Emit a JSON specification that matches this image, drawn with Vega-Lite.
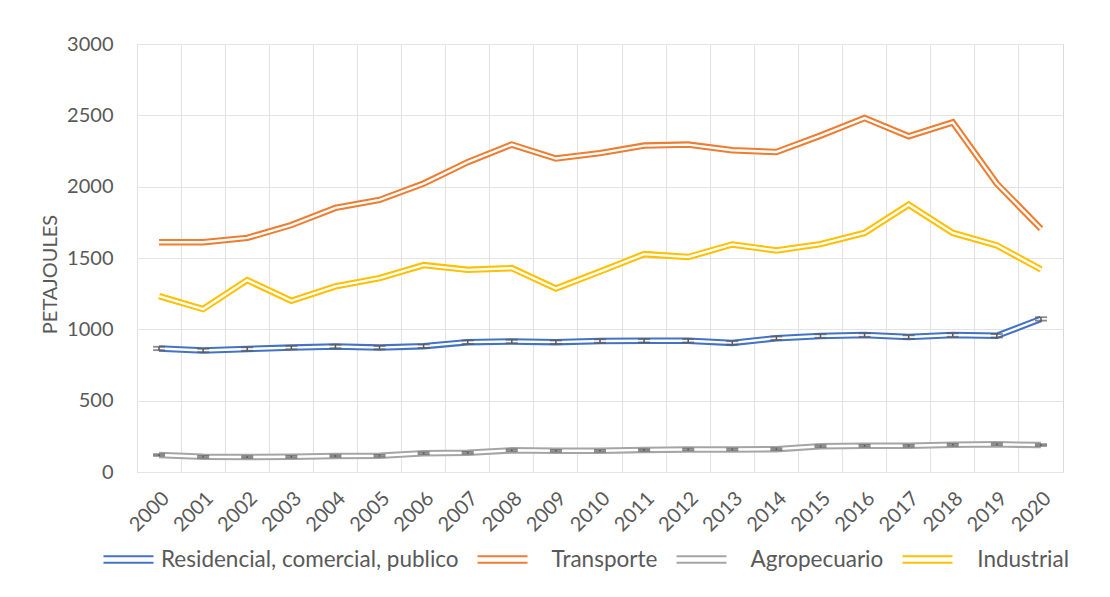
{
  "$schema": "https://vega.github.io/schema/vega-lite/v6.json",
  "width": 926,
  "height": 428,
  "autosize": {"type": "none"},
  "padding": {"left": 137, "top": 44, "right": 47, "bottom": 125},
  "background": "white",
  "config": {
    "font": "Lato",
    "view": {"stroke": "#d9d9d9", "strokeWidth": 1}
  },
  "data": {
    "values": [
      {"year": "2000", "series": "Residencial, comercial, publico", "value": 866, "err": 12},
      {"year": "2001", "series": "Residencial, comercial, publico", "value": 852, "err": 12},
      {"year": "2002", "series": "Residencial, comercial, publico", "value": 862, "err": 12},
      {"year": "2003", "series": "Residencial, comercial, publico", "value": 872, "err": 12},
      {"year": "2004", "series": "Residencial, comercial, publico", "value": 880, "err": 12},
      {"year": "2005", "series": "Residencial, comercial, publico", "value": 872, "err": 12},
      {"year": "2006", "series": "Residencial, comercial, publico", "value": 882, "err": 12},
      {"year": "2007", "series": "Residencial, comercial, publico", "value": 910, "err": 12},
      {"year": "2008", "series": "Residencial, comercial, publico", "value": 915, "err": 12},
      {"year": "2009", "series": "Residencial, comercial, publico", "value": 910, "err": 12},
      {"year": "2010", "series": "Residencial, comercial, publico", "value": 918, "err": 12},
      {"year": "2011", "series": "Residencial, comercial, publico", "value": 920, "err": 12},
      {"year": "2012", "series": "Residencial, comercial, publico", "value": 920, "err": 12},
      {"year": "2013", "series": "Residencial, comercial, publico", "value": 905, "err": 12},
      {"year": "2014", "series": "Residencial, comercial, publico", "value": 938, "err": 12},
      {"year": "2015", "series": "Residencial, comercial, publico", "value": 953, "err": 12},
      {"year": "2016", "series": "Residencial, comercial, publico", "value": 960, "err": 12},
      {"year": "2017", "series": "Residencial, comercial, publico", "value": 946, "err": 12},
      {"year": "2018", "series": "Residencial, comercial, publico", "value": 960, "err": 12},
      {"year": "2019", "series": "Residencial, comercial, publico", "value": 955, "err": 12},
      {"year": "2020", "series": "Residencial, comercial, publico", "value": 1073, "err": 12},
      {"year": "2000", "series": "Transporte", "value": 1610},
      {"year": "2001", "series": "Transporte", "value": 1610},
      {"year": "2002", "series": "Transporte", "value": 1641},
      {"year": "2003", "series": "Transporte", "value": 1731},
      {"year": "2004", "series": "Transporte", "value": 1851},
      {"year": "2005", "series": "Transporte", "value": 1907},
      {"year": "2006", "series": "Transporte", "value": 2022},
      {"year": "2007", "series": "Transporte", "value": 2172},
      {"year": "2008", "series": "Transporte", "value": 2295},
      {"year": "2009", "series": "Transporte", "value": 2197},
      {"year": "2010", "series": "Transporte", "value": 2235},
      {"year": "2011", "series": "Transporte", "value": 2288},
      {"year": "2012", "series": "Transporte", "value": 2295},
      {"year": "2013", "series": "Transporte", "value": 2255},
      {"year": "2014", "series": "Transporte", "value": 2243},
      {"year": "2015", "series": "Transporte", "value": 2358},
      {"year": "2016", "series": "Transporte", "value": 2481},
      {"year": "2017", "series": "Transporte", "value": 2353},
      {"year": "2018", "series": "Transporte", "value": 2451},
      {"year": "2019", "series": "Transporte", "value": 2021},
      {"year": "2020", "series": "Transporte", "value": 1705},
      {"year": "2000", "series": "Agropecuario", "value": 119, "err": 6},
      {"year": "2001", "series": "Agropecuario", "value": 107, "err": 6},
      {"year": "2002", "series": "Agropecuario", "value": 105, "err": 6},
      {"year": "2003", "series": "Agropecuario", "value": 107, "err": 6},
      {"year": "2004", "series": "Agropecuario", "value": 112, "err": 6},
      {"year": "2005", "series": "Agropecuario", "value": 114, "err": 6},
      {"year": "2006", "series": "Agropecuario", "value": 131, "err": 6},
      {"year": "2007", "series": "Agropecuario", "value": 135, "err": 6},
      {"year": "2008", "series": "Agropecuario", "value": 152, "err": 6},
      {"year": "2009", "series": "Agropecuario", "value": 149, "err": 6},
      {"year": "2010", "series": "Agropecuario", "value": 149, "err": 6},
      {"year": "2011", "series": "Agropecuario", "value": 155, "err": 6},
      {"year": "2012", "series": "Agropecuario", "value": 158, "err": 6},
      {"year": "2013", "series": "Agropecuario", "value": 158, "err": 6},
      {"year": "2014", "series": "Agropecuario", "value": 160, "err": 6},
      {"year": "2015", "series": "Agropecuario", "value": 180, "err": 6},
      {"year": "2016", "series": "Agropecuario", "value": 184, "err": 6},
      {"year": "2017", "series": "Agropecuario", "value": 184, "err": 6},
      {"year": "2018", "series": "Agropecuario", "value": 191, "err": 6},
      {"year": "2019", "series": "Agropecuario", "value": 194, "err": 6},
      {"year": "2020", "series": "Agropecuario", "value": 189, "err": 6},
      {"year": "2000", "series": "Industrial", "value": 1233},
      {"year": "2001", "series": "Industrial", "value": 1142},
      {"year": "2002", "series": "Industrial", "value": 1345},
      {"year": "2003", "series": "Industrial", "value": 1200},
      {"year": "2004", "series": "Industrial", "value": 1301},
      {"year": "2005", "series": "Industrial", "value": 1359},
      {"year": "2006", "series": "Industrial", "value": 1450},
      {"year": "2007", "series": "Industrial", "value": 1417},
      {"year": "2008", "series": "Industrial", "value": 1429},
      {"year": "2009", "series": "Industrial", "value": 1286},
      {"year": "2010", "series": "Industrial", "value": 1405},
      {"year": "2011", "series": "Industrial", "value": 1527},
      {"year": "2012", "series": "Industrial", "value": 1507},
      {"year": "2013", "series": "Industrial", "value": 1595},
      {"year": "2014", "series": "Industrial", "value": 1553},
      {"year": "2015", "series": "Industrial", "value": 1597},
      {"year": "2016", "series": "Industrial", "value": 1676},
      {"year": "2017", "series": "Industrial", "value": 1874},
      {"year": "2018", "series": "Industrial", "value": 1676},
      {"year": "2019", "series": "Industrial", "value": 1588},
      {"year": "2020", "series": "Industrial", "value": 1420}
    ]
  },
  "layer": [
    {
      "mark": {"type": "line", "strokeWidth": 6.5, "strokeJoin": "miter", "strokeCap": "butt"},
      "encoding": {
        "x": {
          "field": "year", "type": "ordinal",
          "scale": {"type": "band", "paddingInner": 0, "paddingOuter": 0},
          "axis": {
            "title": null, "labelAngle": -45, "labelFontSize": 20, "labelColor": "#595959",
            "labelPadding": 16, "domain": false, "ticks": false,
            "grid": true, "gridColor": "#e4e4e4", "gridWidth": 1.2, "bandPosition": 0
          }
        },
        "y": {
          "field": "value", "type": "quantitative", "title": "PETAJOULES",
          "scale": {"domain": [0, 3000]},
          "axis": {
            "title": "PETAJOULES", "titleFontSize": 20, "titleFontWeight": "normal", "titleColor": "#595959",
            "titlePadding": 6, "titleY": 230, "format": "d",
            "values": [0, 500, 1000, 1500, 2000, 2500, 3000],
            "labelFontSize": 20, "labelColor": "#595959", "labelPadding": 24,
            "domain": false, "ticks": false, "gridColor": "#e4e4e4", "gridWidth": 1.2
          }
        },
        "color": {
          "field": "series", "type": "nominal",
          "scale": {
            "domain": ["Residencial, comercial, publico", "Transporte", "Agropecuario", "Industrial"],
            "range": ["#4472C4", "#ED7D31", "#A5A5A5", "#FFC000"]
          },
          "legend": {
            "title": null, "orient": "none", "direction": "horizontal",
            "legendX": -35, "legendY": 489,
            "symbolType": "M-1,-0.13H1M-1,0.13H1", "symbolSize": 2500, "symbolStrokeWidth": 2.2,
            "labelFontSize": 22.5, "labelColor": "#595959", "labelOffset": 6, "columnPadding": 14,
            "labelLimit": 400,
            "labelExpr": "datum.value == 'Residencial, comercial, publico' ? datum.label : '\u200b\u00a0\u00a0\u00a0' + datum.label"
          }
        }
      }
    },
    {
      "mark": {"type": "line", "strokeWidth": 2.4, "color": "white", "strokeJoin": "miter", "strokeCap": "butt"},
      "encoding": {
        "x": {"field": "year", "type": "ordinal"},
        "y": {"field": "value", "type": "quantitative", "title": "PETAJOULES"},
        "detail": {"field": "series", "type": "nominal"}
      }
    },
    {
      "transform": [{"filter": "isValid(datum.err)"}],
      "mark": {"type": "errorbar", "color": "#595959", "thickness": 1.5, "ticks": {"size": 12, "thickness": 1.8, "color": "#595959"}},
      "encoding": {
        "x": {"field": "year", "type": "ordinal"},
        "y": {"field": "value", "type": "quantitative", "title": "PETAJOULES"},
        "yError": {"field": "err"},
        "detail": {"field": "series", "type": "nominal"}
      }
    }
  ]
}
